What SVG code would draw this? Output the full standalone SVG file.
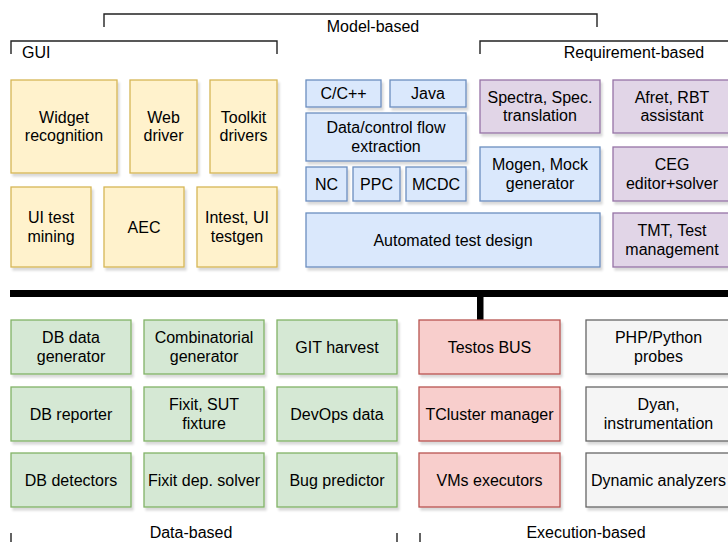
<svg xmlns="http://www.w3.org/2000/svg" width="728" height="542" viewBox="0 0 728 542">
<style>
.n rect{stroke-width:1.3;filter:url(#sh)}
.y rect{fill:#fff2cc;stroke:#d6b656}
.b rect{fill:#dae8fc;stroke:#6c8ebf}
.p rect{fill:#e1d5e7;stroke:#9673a6}
.g rect{fill:#d5e8d4;stroke:#82b366}
.r rect{fill:#f8cecc;stroke:#b85450}
.w rect{fill:#f5f5f5;stroke:#666666}
text{font-family:"Liberation Sans",Arial,sans-serif;font-size:16px;fill:#000}
.n text{text-anchor:middle}
.br{fill:none;stroke:#222;stroke-width:1.4}
.lb{text-anchor:middle}
</style>
<defs>
<filter id="sh" x="-10%" y="-10%" width="130%" height="130%">
<feDropShadow dx="2" dy="3" stdDeviation="1.2" flood-color="#000" flood-opacity="0.15"/>
</filter>
</defs>
<rect width="728" height="542" fill="#fff"/>

<g id="brackets">
<path class="br" d="M104,27 V14 H597 V27"/>
<text class="lb" x="373" y="32">Model-based</text>
<path class="br" d="M11,54 V41 H277 V54"/>
<text x="22" y="58">GUI</text>
<path class="br" d="M480,54 V41 H740"/>
<text class="lb" x="634" y="58">Requirement-based</text>
<path class="br" d="M11,533 V550 M397,533 V550 M420,533 V550"/>
<text class="lb" x="191" y="538">Data-based</text>
<text class="lb" x="586" y="538">Execution-based</text>
</g>

<g id="connectors">
<rect x="10" y="290" width="730" height="7" fill="#000"/>
<rect x="477" y="293" width="6.5" height="27" fill="#000"/>
</g>

<g id="widget" class="n y"><rect x="11" y="80" width="106" height="93"/><text><tspan x="64" y="122.8">Widget</tspan><tspan x="64" y="141.3">recognition</tspan></text></g>
<g id="webdriver" class="n y"><rect x="130" y="80" width="67" height="93"/><text><tspan x="163.5" y="122.8">Web</tspan><tspan x="163.5" y="141.3">driver</tspan></text></g>
<g id="toolkit" class="n y"><rect x="210" y="80" width="67" height="93"/><text><tspan x="243.5" y="122.8">Toolkit</tspan><tspan x="243.5" y="141.3">drivers</tspan></text></g>
<g id="uimining" class="n y"><rect x="11" y="187" width="80" height="80"/><text><tspan x="51" y="223.3">UI test</tspan><tspan x="51" y="241.8">mining</tspan></text></g>
<g id="aec" class="n y"><rect x="104" y="187" width="80" height="80"/><text x="144" y="232.5">AEC</text></g>
<g id="intest" class="n y"><rect x="197" y="187" width="80" height="80"/><text><tspan x="237" y="223.3">Intest, UI</tspan><tspan x="237" y="241.8">testgen</tspan></text></g>

<g id="ccpp" class="n b"><rect x="306" y="80" width="75" height="27"/><text x="343.5" y="99">C/C++</text></g>
<g id="java" class="n b"><rect x="390" y="80" width="76" height="27"/><text x="428" y="99">Java</text></g>
<g id="dataflow" class="n b"><rect x="306" y="113" width="160" height="48"/><text><tspan x="386" y="133.3">Data/control flow</tspan><tspan x="386" y="151.8">extraction</tspan></text></g>
<g id="nc" class="n b"><rect x="306" y="167" width="41" height="34"/><text x="326.5" y="189.5">NC</text></g>
<g id="ppc" class="n b"><rect x="353" y="167" width="47" height="34"/><text x="376.5" y="189.5">PPC</text></g>
<g id="mcdc" class="n b"><rect x="406" y="167" width="60" height="34"/><text x="436" y="189.5">MCDC</text></g>
<g id="mogen" class="n b"><rect x="480" y="147" width="120" height="54"/><text><tspan x="540" y="170.3">Mogen, Mock</tspan><tspan x="540" y="188.8">generator</tspan></text></g>
<g id="atd" class="n b"><rect x="306" y="213" width="294" height="54"/><text x="453" y="245.5">Automated test design</text></g>

<g id="spectra" class="n p"><rect x="480" y="80" width="120" height="53"/><text><tspan x="540" y="102.8">Spectra, Spec.</tspan><tspan x="540" y="121.3">translation</tspan></text></g>
<g id="afret" class="n p"><rect x="613" y="80" width="118" height="53"/><text><tspan x="672" y="102.8">Afret, RBT</tspan><tspan x="672" y="121.3">assistant</tspan></text></g>
<g id="ceg" class="n p"><rect x="613" y="147" width="118" height="54"/><text><tspan x="672" y="170.3">CEG</tspan><tspan x="672" y="188.8">editor+solver</tspan></text></g>
<g id="tmt" class="n p"><rect x="613" y="213" width="118" height="54"/><text><tspan x="672" y="236.3">TMT, Test</tspan><tspan x="672" y="254.8">management</tspan></text></g>

<g id="dbdata" class="n g"><rect x="11" y="320" width="120" height="54"/><text><tspan x="71" y="343.3">DB data</tspan><tspan x="71" y="361.8">generator</tspan></text></g>
<g id="combi" class="n g"><rect x="144" y="320" width="120" height="54"/><text><tspan x="204" y="343.3">Combinatorial</tspan><tspan x="204" y="361.8">generator</tspan></text></g>
<g id="git" class="n g"><rect x="277" y="320" width="120" height="54"/><text x="337" y="352.5">GIT harvest</text></g>
<g id="dbrep" class="n g"><rect x="11" y="387" width="120" height="54"/><text x="71" y="419.5">DB reporter</text></g>
<g id="fixitsut" class="n g"><rect x="144" y="387" width="120" height="54"/><text><tspan x="204" y="410.3">Fixit, SUT</tspan><tspan x="204" y="428.8">fixture</tspan></text></g>
<g id="devops" class="n g"><rect x="277" y="387" width="120" height="54"/><text x="337" y="419.5">DevOps data</text></g>
<g id="dbdet" class="n g"><rect x="11" y="453" width="120" height="54"/><text x="71" y="485.5">DB detectors</text></g>
<g id="fixitdep" class="n g"><rect x="144" y="453" width="120" height="54"/><text x="204" y="485.5">Fixit dep. solver</text></g>
<g id="bug" class="n g"><rect x="277" y="453" width="120" height="54"/><text x="337" y="485.5">Bug predictor</text></g>

<g id="testos" class="n r"><rect x="419" y="320" width="141" height="54"/><text x="489.5" y="352.5">Testos BUS</text></g>
<g id="tcluster" class="n r"><rect x="419" y="387" width="141" height="54"/><text x="489.5" y="419.5">TCluster manager</text></g>
<g id="vms" class="n r"><rect x="419" y="453" width="141" height="54"/><text x="489.5" y="485.5">VMs executors</text></g>

<g id="php" class="n w"><rect x="586" y="320" width="145" height="54"/><text><tspan x="658.5" y="343.3">PHP/Python</tspan><tspan x="658.5" y="361.8">probes</tspan></text></g>
<g id="dyan" class="n w"><rect x="586" y="387" width="145" height="54"/><text><tspan x="658.5" y="410.3">Dyan,</tspan><tspan x="658.5" y="428.8">instrumentation</tspan></text></g>
<g id="dynamic" class="n w"><rect x="586" y="453" width="145" height="54"/><text x="658.5" y="485.5">Dynamic analyzers</text></g>
</svg>
